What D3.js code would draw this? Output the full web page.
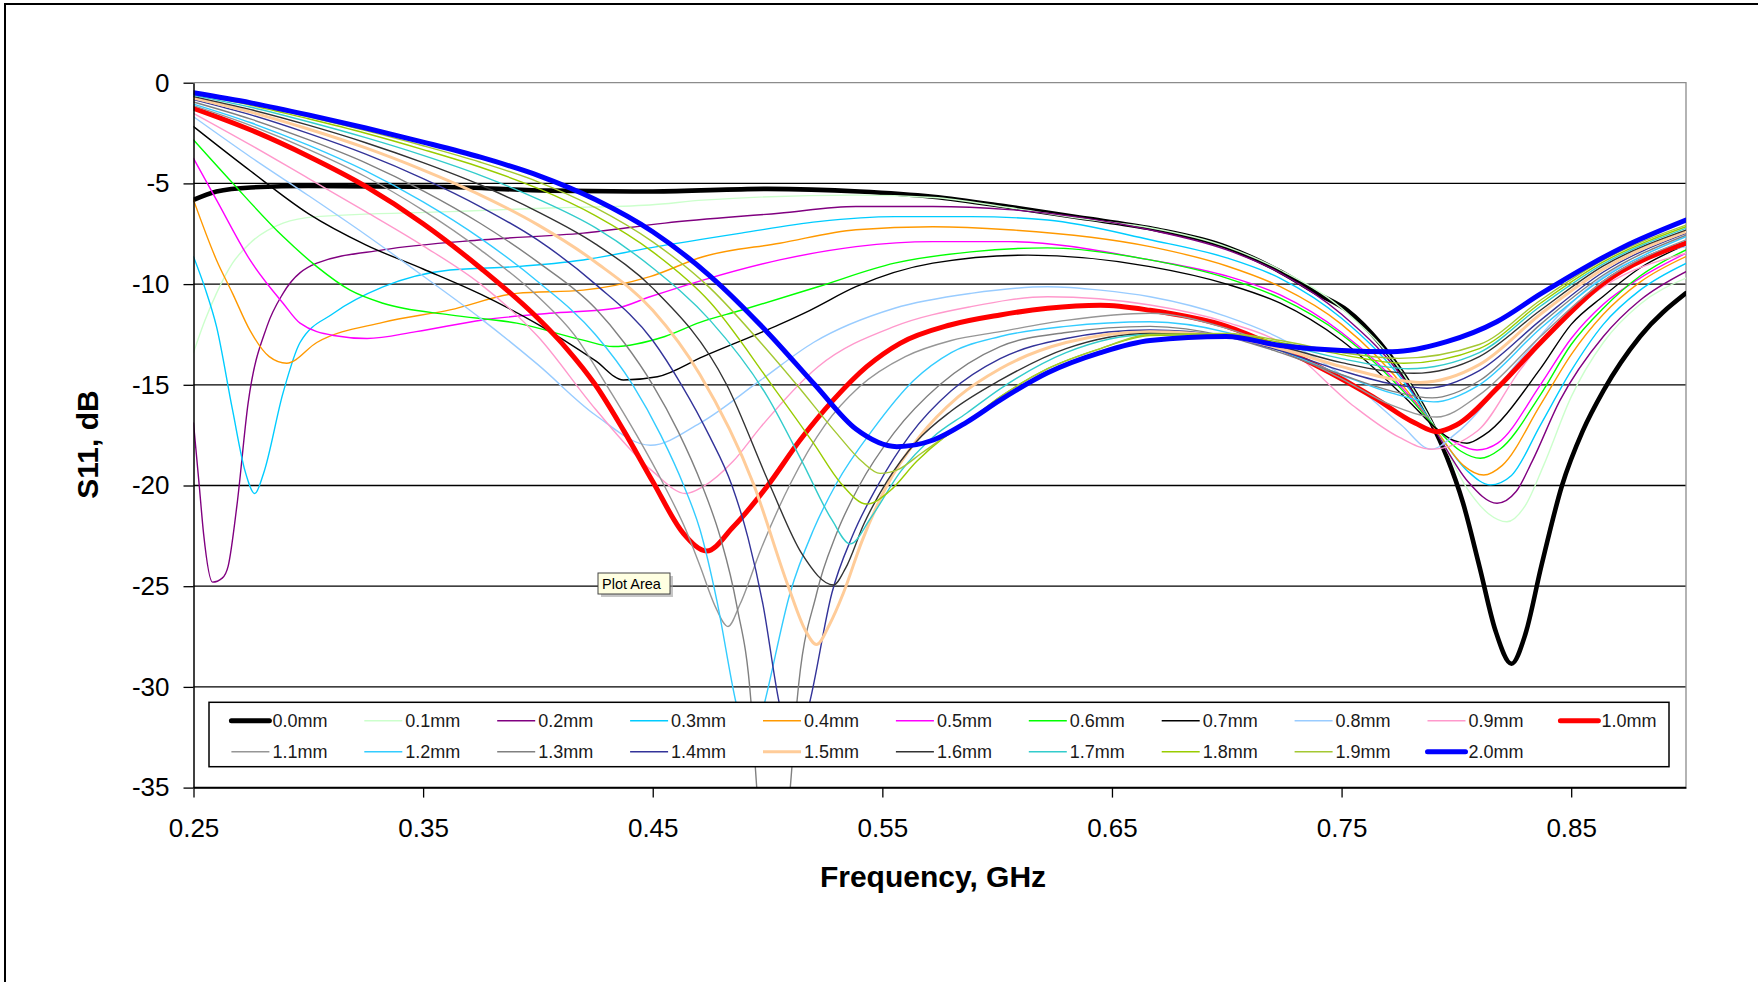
<!DOCTYPE html>
<html>
<head>
<meta charset="utf-8">
<script src="https://cdn.jsdelivr.net/npm/d3@7"></script>
<style>
  html, body { margin: 0; padding: 0; background: #fff; }
  svg { display: block; }
  text { font-family: "Liberation Sans", Arial, sans-serif; }
</style>
</head>
<body>
<svg id="chart" width="1758" height="982"></svg>
<script>
// S11 (dB) versus frequency (GHz), one series per spacer thickness.
const seriesNames = ["0.0mm","0.1mm","0.2mm","0.3mm","0.4mm","0.5mm","0.6mm","0.7mm","0.8mm","0.9mm","1.0mm",
                     "1.1mm","1.2mm","1.3mm","1.4mm","1.5mm","1.6mm","1.7mm","1.8mm","1.9mm","2.0mm"];

// [frequency GHz, S11 dB]
const mm00 = [[0.25,-5.82],[0.26,-5.4],[0.275,-5.2],[0.30,-5.13],[0.36,-5.18],[0.405,-5.36],[0.45,-5.4],[0.50,-5.27],[0.54,-5.4],[0.572,-5.66],[0.605,-6.16],[0.64,-6.76],[0.67,-7.3],[0.70,-8.16],[0.7233,-9.38],[0.74,-10.5],[0.7523,-11.29],[0.7668,-12.94],[0.7812,-15.26],[0.7885,-16.75],[0.7958,-18.57],[0.8029,-20.87],[0.81,-24.0],[0.817,-27.2],[0.824,-28.85],[0.83,-27.4],[0.837,-24.0],[0.846,-20.0],[0.855,-17.3],[0.864,-15.3],[0.88,-12.6],[0.9,-10.45]];
const mm01 = [[0.25,-13.4],[0.255,-11.8],[0.26,-10.46],[0.267,-8.96],[0.2746,-7.97],[0.289,-6.97],[0.3037,-6.65],[0.3617,-6.4],[0.405,-6.22],[0.4488,-6.07],[0.472,-5.83],[0.5385,-5.58],[0.572,-5.7],[0.605,-6.2],[0.64,-6.8],[0.6666,-7.2],[0.70,-8.15],[0.7233,-9.3],[0.75,-11.2],[0.78,-15.0],[0.7915,-17.3],[0.805,-20.2],[0.814,-21.4],[0.822,-21.8],[0.83,-21.0],[0.838,-19.0],[0.85,-15.6],[0.864,-12.9],[0.88,-11.0],[0.9,-9.7]];
const mm02 = [[0.25,-16.9],[0.2525,-20.0],[0.2544,-22.4],[0.2583,-24.8],[0.2625,-24.6],[0.2651,-24.0],[0.2689,-21.0],[0.2738,-15.9],[0.282,-12.1],[0.289,-10.46],[0.3037,-8.96],[0.3325,-8.3],[0.376,-7.8],[0.4197,-7.47],[0.4553,-6.97],[0.505,-6.48],[0.5385,-6.15],[0.572,-6.15],[0.605,-6.3],[0.6666,-7.31],[0.70,-8.3],[0.7233,-9.45],[0.75,-11.5],[0.78,-15.2],[0.7915,-17.4],[0.805,-19.8],[0.8177,-20.88],[0.826,-20.3],[0.833,-18.8],[0.845,-15.8],[0.864,-12.6],[0.88,-10.8],[0.9,-9.38]];
const mm03 = [[0.25,-8.64],[0.255,-10.2],[0.26,-12.1],[0.267,-16.25],[0.2725,-19.3],[0.2767,-20.4],[0.2805,-19.4],[0.289,-15.4],[0.2964,-12.9],[0.311,-11.45],[0.3325,-10.14],[0.3617,-9.3],[0.3908,-9.13],[0.4197,-8.8],[0.4488,-8.2],[0.4885,-7.47],[0.522,-6.9],[0.5553,-6.65],[0.5886,-6.65],[0.622,-6.82],[0.6666,-7.8],[0.70,-8.7],[0.7233,-9.71],[0.75,-11.7],[0.78,-15.3],[0.7915,-17.3],[0.805,-19.3],[0.8148,-19.97],[0.824,-19.5],[0.8366,-17.0],[0.85,-14.3],[0.864,-12.0],[0.88,-10.3],[0.9,-8.97]];
const mm04 = [[0.25,-5.82],[0.26,-8.8],[0.267,-10.46],[0.2746,-12.3],[0.283,-13.6],[0.2906,-13.93],[0.3037,-12.9],[0.3325,-11.9],[0.3617,-11.28],[0.3908,-10.46],[0.4197,-10.3],[0.4488,-9.63],[0.4719,-8.64],[0.5053,-7.97],[0.5385,-7.3],[0.572,-7.15],[0.605,-7.3],[0.6666,-8.14],[0.70,-9.1],[0.7233,-10.13],[0.75,-12.0],[0.78,-15.5],[0.7915,-17.3],[0.803,-19.0],[0.8119,-19.48],[0.82,-19.0],[0.8366,-16.0],[0.85,-13.5],[0.864,-11.5],[0.88,-9.9],[0.9,-8.63]];
const mm05 = [[0.25,-3.76],[0.26,-5.82],[0.2746,-8.8],[0.289,-10.95],[0.2964,-11.94],[0.311,-12.55],[0.3256,-12.7],[0.347,-12.36],[0.376,-11.78],[0.405,-11.45],[0.434,-11.2],[0.4488,-10.63],[0.4719,-9.8],[0.5053,-8.8],[0.5385,-8.14],[0.572,-7.89],[0.605,-7.89],[0.6666,-8.8],[0.70,-9.6],[0.7233,-10.54],[0.75,-12.4],[0.78,-15.6],[0.7915,-17.2],[0.80,-17.9],[0.809,-18.24],[0.818,-17.9],[0.8366,-15.0],[0.85,-12.7],[0.864,-11.0],[0.88,-9.7],[0.9,-8.47]];
const mm06 = [[0.25,-2.84],[0.267,-4.98],[0.289,-7.64],[0.3037,-9.13],[0.3182,-10.3],[0.3325,-10.95],[0.3617,-11.53],[0.3908,-11.94],[0.4197,-12.78],[0.4328,-13.1],[0.4553,-12.6],[0.4706,-11.9],[0.4885,-11.3],[0.522,-10.13],[0.5553,-8.96],[0.5886,-8.4],[0.622,-8.2],[0.6666,-8.8],[0.70,-9.7],[0.7233,-10.7],[0.75,-12.5],[0.78,-15.7],[0.7915,-17.2],[0.802,-18.3],[0.8104,-18.65],[0.819,-18.2],[0.8366,-15.5],[0.85,-13.0],[0.864,-11.2],[0.88,-9.6],[0.9,-8.3]];
const mm07 = [[0.25,-2.18],[0.275,-4.4],[0.30,-6.5],[0.325,-8.05],[0.35,-9.25],[0.375,-10.5],[0.40,-12.0],[0.425,-13.8],[0.4372,-14.76],[0.452,-14.6],[0.4719,-13.6],[0.5053,-12.0],[0.5185,-11.3],[0.5385,-10.13],[0.572,-8.96],[0.6134,-8.56],[0.6666,-9.13],[0.70,-10.0],[0.7233,-10.95],[0.75,-12.8],[0.78,-15.9],[0.7915,-17.2],[0.7985,-17.75],[0.8046,-17.9],[0.812,-17.5],[0.8366,-14.2],[0.85,-12.0],[0.864,-10.6],[0.88,-9.2],[0.9,-8.05]];
const mm08 = [[0.25,-1.69],[0.275,-3.7],[0.30,-5.6],[0.325,-7.55],[0.35,-9.6],[0.375,-11.7],[0.40,-14.0],[0.425,-16.5],[0.449,-18.0],[0.4706,-16.9],[0.497,-14.77],[0.52,-12.9],[0.5553,-11.2],[0.5886,-10.46],[0.622,-10.13],[0.645,-10.3],[0.6666,-10.63],[0.6997,-11.6],[0.7233,-12.69],[0.7546,-14.9],[0.776,-17.0],[0.789,-18.2],[0.80,-17.4],[0.8277,-13.77],[0.845,-11.5],[0.864,-9.63],[0.9,-8.14]];
const mm09 = [[0.25,-1.52],[0.275,-3.1],[0.30,-4.75],[0.325,-6.4],[0.35,-8.1],[0.375,-10.0],[0.40,-12.6],[0.425,-16.2],[0.45,-19.3],[0.4644,-20.4],[0.4719,-20.06],[0.485,-18.8],[0.497,-17.1],[0.522,-14.1],[0.5553,-12.1],[0.5886,-11.12],[0.622,-10.63],[0.6666,-11.04],[0.70,-11.9],[0.7233,-12.9],[0.7546,-16.0],[0.775,-17.6],[0.789,-18.2],[0.8094,-17.27],[0.8277,-14.27],[0.845,-11.9],[0.864,-10.13],[0.9,-8.47]];
const mm10 = [[0.25,-1.27],[0.275,-2.35],[0.30,-3.65],[0.325,-5.15],[0.35,-7.0],[0.375,-9.2],[0.40,-11.7],[0.4125,-13.2],[0.425,-15.0],[0.4375,-17.3],[0.45,-19.8],[0.4635,-22.4],[0.4735,-23.25],[0.4851,-22.05],[0.4997,-20.06],[0.5142,-17.74],[0.5287,-15.75],[0.5432,-14.1],[0.5577,-12.94],[0.5795,-12.03],[0.6013,-11.53],[0.622,-11.2],[0.645,-11.05],[0.6666,-11.3],[0.70,-12.1],[0.7233,-13.2],[0.74,-14.1],[0.7637,-15.6],[0.782,-16.9],[0.7915,-17.33],[0.80,-17.0],[0.8184,-15.1],[0.8367,-12.9],[0.864,-9.96],[0.9,-7.97]];
const mm11 = [[0.25,-1.14],[0.275,-2.13],[0.30,-3.31],[0.325,-4.67],[0.35,-6.34],[0.375,-8.3],[0.40,-10.62],[0.4157,-12.5],[0.4298,-15.0],[0.443,-17.5],[0.455,-20.0],[0.4644,-22.2],[0.4706,-24.0],[0.4772,-26.0],[0.4828,-27.0],[0.488,-25.9],[0.497,-23.2],[0.51,-19.9],[0.525,-17.0],[0.54,-15.1],[0.56,-13.6],[0.58,-12.8],[0.6013,-12.36],[0.63,-11.8],[0.6666,-11.45],[0.70,-12.2],[0.7233,-13.2],[0.75,-14.7],[0.7715,-16.0],[0.7915,-16.6],[0.81,-15.5],[0.8366,-12.6],[0.864,-9.85],[0.9,-7.8]];
const mm12 = [[0.25,-1.06],[0.275,-1.99],[0.30,-3.10],[0.325,-4.38],[0.35,-5.92],[0.375,-7.73],[0.40,-9.88],[0.425,-12.5],[0.4413,-15.0],[0.4535,-17.5],[0.4635,-20.0],[0.4706,-22.2],[0.4779,-25.7],[0.4862,-30.75],[0.4925,-33.5],[0.4988,-30.75],[0.5098,-25.35],[0.52,-22.2],[0.53,-19.9],[0.546,-17.2],[0.5635,-14.8],[0.58,-13.4],[0.6013,-12.6],[0.63,-12.1],[0.6666,-11.87],[0.70,-12.4],[0.7233,-13.3],[0.75,-14.5],[0.7715,-15.4],[0.79,-15.85],[0.81,-15.0],[0.8366,-12.2],[0.864,-9.7],[0.9,-7.65]];
const mm13 = [[0.25,-0.96],[0.275,-1.81],[0.30,-2.83],[0.325,-3.98],[0.35,-5.37],[0.375,-6.99],[0.40,-8.91],[0.425,-11.2],[0.4375,-12.9],[0.45,-15.0],[0.461,-17.3],[0.4715,-20.0],[0.4795,-22.6],[0.4865,-25.9],[0.4928,-30.75],[0.4953,-35.0],[0.5026,-42.0],[0.5099,-35.0],[0.5128,-30.75],[0.5214,-25.35],[0.53,-22.4],[0.54,-20.0],[0.555,-17.4],[0.575,-15.0],[0.6013,-13.1],[0.63,-12.4],[0.6666,-12.1],[0.70,-12.6],[0.7233,-13.4],[0.75,-14.5],[0.7715,-15.3],[0.7894,-15.65],[0.81,-14.8],[0.8366,-12.0],[0.864,-9.55],[0.9,-7.57]];
const mm14 = [[0.25,-0.84],[0.275,-1.60],[0.30,-2.52],[0.325,-3.55],[0.35,-4.76],[0.375,-6.16],[0.40,-7.82],[0.425,-10.0],[0.45,-12.8],[0.4625,-15.0],[0.4745,-17.5],[0.4845,-20.0],[0.4915,-22.6],[0.498,-25.9],[0.505,-30.75],[0.5117,-33.5],[0.5184,-30.75],[0.528,-25.35],[0.537,-22.5],[0.548,-20.0],[0.562,-17.5],[0.58,-15.3],[0.6013,-13.7],[0.63,-12.7],[0.6666,-12.28],[0.70,-12.6],[0.7233,-13.3],[0.75,-14.3],[0.7715,-14.95],[0.7872,-15.17],[0.81,-14.3],[0.8366,-11.8],[0.864,-9.4],[0.9,-7.48]];
const mm15 = [[0.25,-0.76],[0.275,-1.46],[0.30,-2.30],[0.325,-3.24],[0.35,-4.34],[0.375,-5.58],[0.40,-7.06],[0.425,-8.9],[0.45,-11.3],[0.4706,-14.5],[0.4938,-19.9],[0.509,-25.0],[0.5165,-27.2],[0.5213,-27.9],[0.527,-26.9],[0.533,-25.35],[0.541,-22.8],[0.552,-20.0],[0.566,-17.6],[0.583,-15.6],[0.6013,-14.2],[0.63,-12.9],[0.6666,-12.36],[0.70,-12.6],[0.7233,-13.2],[0.75,-14.1],[0.7715,-14.7],[0.7843,-14.88],[0.81,-14.0],[0.8366,-11.5],[0.864,-9.25],[0.9,-7.4]];
const mm16 = [[0.25,-0.69],[0.275,-1.34],[0.30,-2.11],[0.325,-2.98],[0.35,-3.97],[0.375,-5.08],[0.40,-6.41],[0.425,-8.0],[0.45,-10.2],[0.4822,-15.0],[0.5011,-20.0],[0.515,-23.4],[0.5287,-24.94],[0.534,-24.1],[0.542,-21.9],[0.552,-19.8],[0.565,-17.8],[0.58,-16.3],[0.6013,-14.77],[0.63,-13.2],[0.6666,-12.45],[0.70,-12.6],[0.7233,-13.1],[0.75,-13.9],[0.7814,-14.43],[0.81,-13.6],[0.8366,-11.3],[0.864,-9.1],[0.9,-7.32]];
const mm17 = [[0.25,-0.63],[0.275,-1.22],[0.30,-1.94],[0.325,-2.73],[0.35,-3.61],[0.375,-4.60],[0.40,-5.78],[0.425,-7.2],[0.45,-9.2],[0.475,-11.8],[0.50,-15.6],[0.515,-18.8],[0.528,-21.7],[0.536,-22.9],[0.545,-21.6],[0.558,-19.3],[0.572,-17.6],[0.5868,-16.4],[0.6013,-15.2],[0.63,-13.4],[0.6666,-12.5],[0.70,-12.6],[0.7233,-13.0],[0.75,-13.7],[0.779,-14.2],[0.81,-13.4],[0.8366,-11.1],[0.864,-9.0],[0.9,-7.23]];
const mm18 = [[0.25,-0.57],[0.275,-1.12],[0.30,-1.79],[0.325,-2.51],[0.35,-3.32],[0.375,-4.20],[0.40,-5.25],[0.425,-6.6],[0.45,-8.4],[0.475,-10.9],[0.5018,-15.0],[0.52,-17.9],[0.532,-19.9],[0.5432,-20.92],[0.553,-20.3],[0.565,-18.8],[0.577,-17.6],[0.5868,-16.85],[0.6013,-15.6],[0.622,-14.2],[0.645,-13.2],[0.6666,-12.55],[0.70,-12.5],[0.7233,-12.9],[0.75,-13.5],[0.777,-13.93],[0.81,-13.2],[0.8366,-10.95],[0.864,-8.9],[0.9,-7.15]];
const mm19 = [[0.25,-0.53],[0.275,-1.06],[0.30,-1.69],[0.325,-2.38],[0.35,-3.13],[0.375,-3.95],[0.40,-4.92],[0.425,-6.2],[0.45,-7.9],[0.475,-10.2],[0.50,-13.3],[0.5127,-15.0],[0.53,-17.4],[0.541,-18.8],[0.549,-19.4],[0.557,-19.2],[0.567,-18.4],[0.577,-17.6],[0.5868,-16.85],[0.6013,-15.6],[0.622,-14.2],[0.645,-13.2],[0.6666,-12.5],[0.70,-12.45],[0.7233,-12.8],[0.75,-13.4],[0.775,-13.69],[0.81,-13.0],[0.8366,-10.8],[0.864,-8.8],[0.9,-7.07]];
const mm20 = [[0.25,-0.5],[0.275,-1.0],[0.30,-1.6],[0.325,-2.25],[0.35,-2.95],[0.375,-3.7],[0.40,-4.6],[0.425,-5.8],[0.45,-7.4],[0.475,-9.6],[0.50,-12.4],[0.5206,-15.0],[0.5385,-17.2],[0.5563,-18.07],[0.5722,-17.74],[0.5868,-16.85],[0.6013,-15.76],[0.622,-14.4],[0.645,-13.4],[0.6666,-12.8],[0.6997,-12.6],[0.7233,-13.05],[0.75,-13.3],[0.772,-13.36],[0.7958,-12.86],[0.8176,-11.87],[0.8365,-10.5],[0.873,-8.14],[0.9,-6.82]];

const seriesValues = [mm00, mm01, mm02, mm03, mm04, mm05, mm06, mm07, mm08, mm09, mm10,
                      mm11, mm12, mm13, mm14, mm15, mm16, mm17, mm18, mm19, mm20];

const xTicks = [0.25, 0.35, 0.45, 0.55, 0.65, 0.75, 0.85];
const xTickLabels = ["0.25", "0.35", "0.45", "0.55", "0.65", "0.75", "0.85"];
const yTicks = [0, -5, -10, -15, -20, -25, -30, -35];
const yTickLabels = ["0", "-5", "-10", "-15", "-20", "-25", "-30", "-35"];

// Line styling per series (Excel-style palette)
const seriesColors = ["#000000","#CCFFCC","#800080","#00CCFF","#FF9900","#FF00FF","#00FF00","#000000","#99CCFF","#FF99CC","#FF0000",
                      "#969696","#33CCFF","#808080","#333399","#FFCC99","#333333","#33CCCC","#99CC00","#A4C832","#0000FF"];
const seriesWidths = [4.6,1.4,1.4,1.4,1.4,1.4,1.4,1.4,1.4,1.4,5,
                      1.4,1.4,1.4,1.4,3,1.4,1.4,1.4,1.4,5];

const svg = d3.select("#chart");
const W = 1758, H = 982;
const plot = { left: 193.5, right: 1686, top: 82.7, bottom: 787.6 };

svg.append("rect").attr("width", W).attr("height", H).attr("fill", "#fff");
// chart area frame
svg.append("rect").attr("x", 5).attr("y", 4).attr("width", 1800).attr("height", 1000)
  .attr("fill", "none").attr("stroke", "#000").attr("stroke-width", 2);

const x = d3.scaleLinear().domain([0.25, 0.9]).range([plot.left, plot.right]);
const y = d3.scaleLinear().domain([0, -35]).range([plot.top, plot.bottom]);

// plot area
svg.append("rect").attr("x", plot.left).attr("y", plot.top)
  .attr("width", plot.right - plot.left).attr("height", plot.bottom - plot.top).attr("fill", "#fff");

// horizontal gridlines
svg.append("g").selectAll("line").data(yTicks.filter(v => v < 0 && v > -35)).join("line")
  .attr("x1", plot.left).attr("x2", plot.right)
  .attr("y1", d => y(d)).attr("y2", d => y(d))
  .attr("stroke", "#000").attr("stroke-width", 1.3);

// top and right plot border
svg.append("path")
  .attr("d", `M${plot.left},${y(0)}H${plot.right}V${plot.bottom}`)
  .attr("fill", "none").attr("stroke", "#8c8c8c").attr("stroke-width", 1.3);

// curves
svg.append("clipPath").attr("id", "plotClip").append("rect")
  .attr("x", plot.left).attr("y", plot.top)
  .attr("width", plot.right - plot.left).attr("height", plot.bottom - plot.top);

const line = d3.line().x(d => x(d[0])).y(d => y(d[1])).curve(d3.curveMonotoneX);

svg.append("g").attr("clip-path", "url(#plotClip)")
  .selectAll("path").data(seriesValues).join("path")
  .attr("d", d => line(d))
  .attr("fill", "none")
  .attr("stroke", (d, i) => seriesColors[i])
  .attr("stroke-width", (d, i) => seriesWidths[i])
  .attr("stroke-linejoin", "round")
  .attr("stroke-linecap", "round");

// axes
const yAxis = d3.axisLeft(y).tickValues(yTicks).tickSize(10).tickSizeOuter(0).tickPadding(14)
  .tickFormat((d, i) => yTickLabels[i]);
const gy = svg.append("g").attr("transform", `translate(${plot.left},0)`).call(yAxis);

const xAxis = d3.axisBottom(x).tickValues(xTicks).tickSize(10).tickSizeOuter(0).tickPadding(21)
  .tickFormat((d, i) => xTickLabels[i]);
const gx = svg.append("g").attr("transform", `translate(0,${plot.bottom})`).call(xAxis);

[gx, gy].forEach(g => {
  g.select(".domain").attr("stroke", "#000").attr("stroke-width", 1.5);
  g.selectAll(".tick line").attr("stroke", "#000").attr("stroke-width", 1.3);
  g.selectAll(".tick text").attr("font-family", "'Liberation Sans', Arial, sans-serif")
    .attr("font-size", 26).attr("fill", "#000");
});
// bottom axis line spans the full plot width
svg.append("line").attr("x1", plot.left).attr("x2", plot.right)
  .attr("y1", plot.bottom).attr("y2", plot.bottom).attr("stroke", "#000").attr("stroke-width", 1.5);

// axis titles
svg.append("text").attr("x", 933).attr("y", 887).attr("text-anchor", "middle")
  .attr("font-size", 30).attr("font-weight", "bold").text("Frequency, GHz");
svg.append("text").attr("transform", "translate(98,444.5) rotate(-90)").attr("text-anchor", "middle")
  .attr("font-size", 30).attr("font-weight", "bold").text("S11, dB");

// legend
const legend = svg.append("g");
legend.append("rect").attr("x", 209).attr("y", 702.3).attr("width", 1460).attr("height", 64.4)
  .attr("fill", "#fff").attr("stroke", "#000").attr("stroke-width", 1.5);
const colStep = 132.9, textX0 = 272.4, rowY = [720.7, 751.7];
const items = legend.selectAll("g.item").data(seriesNames).join("g").attr("class", "item")
  .attr("transform", (d, i) => {
    const row = i < 11 ? 0 : 1, col = i < 11 ? i : i - 11;
    return `translate(${textX0 + col * colStep},${rowY[row]})`;
  });
items.append("line").attr("x1", -41).attr("x2", -3).attr("y1", 0).attr("y2", 0)
  .attr("stroke", (d, i) => seriesColors[i])
  .attr("stroke-width", (d, i) => seriesWidths[i] > 4 ? 5 : (seriesWidths[i] > 2 ? 3 : 1.6))
  .attr("stroke-linecap", (d, i) => seriesWidths[i] > 4 ? "round" : "butt");
items.append("text").attr("x", 0).attr("y", 0).attr("dy", "0.36em")
  .attr("font-size", 18).attr("fill", "#1a1a1a").text(d => d);

// hover tip over the plot area
const tip = svg.append("g").attr("transform", "translate(598,573)");
tip.append("rect").attr("x", 3).attr("y", 3).attr("width", 72).attr("height", 21).attr("fill", "#a0a0a0").attr("opacity", 0.6);
tip.append("rect").attr("x", 0).attr("y", 0).attr("width", 72).attr("height", 21)
  .attr("fill", "#FFFFE1").attr("stroke", "#444").attr("stroke-width", 1);
tip.append("text").attr("x", 4).attr("y", 15.5).attr("font-family", "'DejaVu Sans', sans-serif")
  .attr("font-size", 14.5).attr("fill", "#000").text("Plot Area");
</script>
</body>
</html>
